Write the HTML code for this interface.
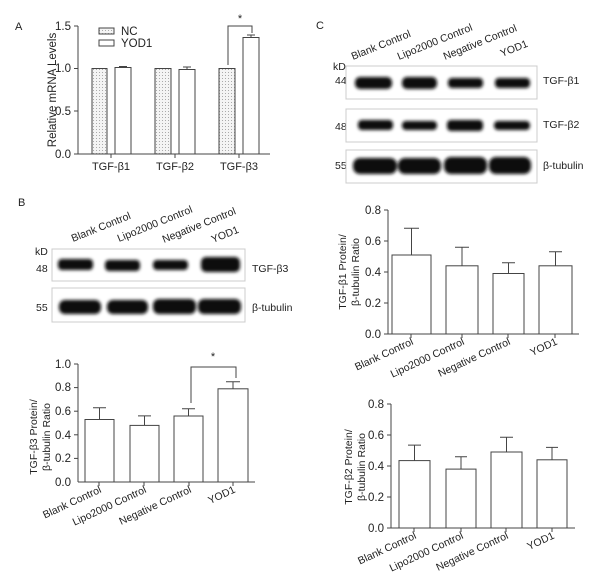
<!DOCTYPE html>
<html><head><meta charset="utf-8"><style>
body{margin:0;background:#fff}
svg{display:block;font-family:"Liberation Sans",Arial,sans-serif}
</style></head><body>
<svg width="605" height="580" viewBox="0 0 605 580" xmlns="http://www.w3.org/2000/svg">
<defs>
<pattern id="dots" width="3" height="3" patternUnits="userSpaceOnUse"><rect width="3" height="3" fill="#f4f4f4"/><rect width="1" height="1" fill="#aaa"/></pattern>
<filter id="bl" x="-20%" y="-50%" width="140%" height="200%"><feGaussianBlur stdDeviation="1.5"/></filter>
</defs>
<g fill="#222" font-size="11">
<!-- Panel A -->
<text x="15" y="30" font-size="11">A</text>
<g stroke="#444" stroke-width="1" fill="none">
<line x1="78" y1="26" x2="78" y2="154"/>
<line x1="78" y1="154" x2="270" y2="154"/>
<line x1="74" y1="26" x2="78" y2="26"/><line x1="74" y1="68.5" x2="78" y2="68.5"/><line x1="74" y1="111" x2="78" y2="111"/><line x1="74" y1="154" x2="78" y2="154"/>
<line x1="111" y1="154" x2="111" y2="158"/><line x1="175" y1="154" x2="175" y2="158"/><line x1="239" y1="154" x2="239" y2="158"/>
<rect x="92" y="68.5" width="15" height="85.5" fill="url(#dots)"/>
<rect x="115" y="67.5" width="16" height="86.5" fill="#fff"/>
<rect x="155" y="68.5" width="16" height="85.5" fill="url(#dots)"/>
<rect x="179" y="69.5" width="16" height="84.5" fill="#fff"/>
<rect x="219" y="68.5" width="16" height="85.5" fill="url(#dots)"/>
<rect x="243" y="37.5" width="16" height="116.5" fill="#fff"/>
<line x1="123" y1="67.5" x2="123" y2="66.5"/><line x1="119" y1="66.5" x2="127" y2="66.5"/>
<line x1="187" y1="69.5" x2="187" y2="67"/><line x1="183" y1="67" x2="191" y2="67"/>
<line x1="251" y1="37.5" x2="251" y2="35"/><line x1="247" y1="35" x2="255" y2="35"/>
<polyline points="228,65 228,26 252,26 252,33"/>
<rect x="99" y="28" width="15" height="6" fill="url(#dots)"/>
<rect x="99" y="40" width="15" height="6" fill="#fff"/>
</g>
<text x="240" y="22" text-anchor="middle" font-size="11">*</text>
<text x="121" y="35" font-size="11.5">NC</text>
<text x="121" y="47" font-size="11.5">YOD1</text>
<g font-size="11.5" text-anchor="end">
<text x="71" y="30">1.5</text><text x="71" y="72">1.0</text><text x="71" y="115">0.5</text><text x="71" y="158">0.0</text>
</g>
<text transform="translate(56,90) rotate(-90)" text-anchor="middle" font-size="11.5">Relative mRNA Levels</text>
<g font-size="11" text-anchor="middle">
<text x="111" y="170">TGF-β1</text><text x="175" y="170">TGF-β2</text><text x="239" y="170">TGF-β3</text>
</g>

<!-- Panel B western -->
<text x="18" y="206">B</text>
<g font-size="10.5">
<text transform="translate(73,242) rotate(-22)">Blank Control</text>
<text transform="translate(119,242) rotate(-22)">Lipo2000 Control</text>
<text transform="translate(164,243) rotate(-22)">Negative Control</text>
<text transform="translate(213,243) rotate(-22)">YOD1</text>
<text x="35" y="255">kD</text>
<text x="36" y="272">48</text>
<text x="36" y="311">55</text>
<text x="252" y="272">TGF-β3</text>
<text x="252" y="311">β-tubulin</text>
</g>
<rect x="52" y="249" width="193" height="32" fill="#fff" stroke="#ccc"/>
<rect x="52" y="288" width="193" height="34" fill="#fff" stroke="#ccc"/>
<g filter="url(#bl)" fill="#111">
<rect x="58" y="259" width="35" height="11" rx="4"/>
<rect x="105" y="260" width="35" height="11" rx="4"/>
<rect x="153" y="260" width="35" height="10" rx="4"/>
<rect x="201" y="257" width="39" height="15" rx="5"/>
<rect x="59" y="300" width="42" height="14" rx="6"/>
<rect x="107" y="300" width="41" height="14" rx="6"/>
<rect x="153" y="299" width="43" height="15" rx="6"/>
<rect x="198" y="299" width="43" height="15" rx="6"/>
</g>

<!-- Panel B chart -->
<g stroke="#444" fill="#fff">
<line x1="78" y1="364" x2="78" y2="482"/><line x1="78" y1="482" x2="255" y2="482"/>
<line x1="74" y1="364" x2="78" y2="364"/><line x1="74" y1="387.6" x2="78" y2="387.6"/><line x1="74" y1="411.2" x2="78" y2="411.2"/><line x1="74" y1="434.8" x2="78" y2="434.8"/><line x1="74" y1="458.4" x2="78" y2="458.4"/>
<line x1="99" y1="482" x2="99" y2="486"/><line x1="144" y1="482" x2="144" y2="486"/><line x1="189" y1="482" x2="189" y2="486"/><line x1="233" y1="482" x2="233" y2="486"/>
<rect x="85" y="419.5" width="29" height="62.5"/>
<rect x="130" y="425.4" width="29" height="56.6"/>
<rect x="174" y="416" width="29" height="66"/>
<rect x="218" y="388.8" width="30" height="93.2"/>
<path fill="none" d="M99.5 419.5V407.7M93 407.7H106M144.5 425.4V415.9M138 415.9H151M188.5 416V408.8M182 408.8H195M233 388.8V381.7M226 381.7H240"/>
<polyline fill="none" points="191,403 191,367 236,367 236,378"/>
</g>
<text x="213" y="360" text-anchor="middle">*</text>
<g font-size="11.5" text-anchor="end">
<text x="71" y="368">1.0</text><text x="71" y="391">0.8</text><text x="71" y="415">0.6</text><text x="71" y="439">0.4</text><text x="71" y="462">0.2</text><text x="71" y="486">0.0</text>
</g>
<g font-size="10.5" text-anchor="middle">
<text transform="translate(37,437) rotate(-90)">TGF-β3 Protein/</text>
<text transform="translate(50,437) rotate(-90)">β-tubulin Ratio</text>
</g>
<g font-size="10.5" text-anchor="end">
<text transform="translate(102,492) rotate(-25)">Blank Control</text>
<text transform="translate(147,492) rotate(-25)">Lipo2000 Control</text>
<text transform="translate(192,492) rotate(-25)">Negative Control</text>
<text transform="translate(236,492) rotate(-25)">YOD1</text>
</g>

<!-- Panel C western -->
<text x="316" y="29">C</text>
<g font-size="10.5">
<text transform="translate(353,60) rotate(-22)">Blank Control</text>
<text transform="translate(399,60) rotate(-22)">Lipo2000 Control</text>
<text transform="translate(445,60) rotate(-22)">Negative Control</text>
<text transform="translate(502,57) rotate(-22)">YOD1</text>
<text x="333" y="70">kD</text>
<text x="335" y="84">44</text>
<text x="335" y="130">48</text>
<text x="335" y="169">55</text>
<text x="543" y="84">TGF-β1</text>
<text x="543" y="128">TGF-β2</text>
<text x="543" y="169">β-tubulin</text>
</g>
<rect x="346" y="66" width="191" height="33" fill="#fff" stroke="#ccc"/>
<rect x="346" y="109" width="191" height="33" fill="#fff" stroke="#ccc"/>
<rect x="346" y="150" width="191" height="33" fill="#fff" stroke="#ccc"/>
<g filter="url(#bl)" fill="#111">
<rect x="355" y="77" width="37" height="12" rx="5"/>
<rect x="402" y="77" width="35" height="12" rx="5"/>
<rect x="448" y="78" width="35" height="10" rx="4"/>
<rect x="495" y="78" width="35" height="10" rx="4"/>
<rect x="358" y="120" width="35" height="10" rx="4"/>
<rect x="402" y="121" width="35" height="9" rx="4"/>
<rect x="447" y="120" width="36" height="11" rx="4"/>
<rect x="494" y="121" width="36" height="9" rx="4"/>
<rect x="353" y="158" width="44" height="16" rx="7"/>
<rect x="398" y="158" width="43" height="16" rx="7"/>
<rect x="444" y="157" width="43" height="17" rx="7"/>
<rect x="489" y="157" width="42" height="17" rx="7"/>
</g>

<!-- Panel C chart 1 -->
<g stroke="#444" fill="#fff">
<line x1="388" y1="210" x2="388" y2="334"/><line x1="388" y1="334" x2="579" y2="334"/>
<path fill="none" d="M384 210H388M384 241H388M384 272H388M384 303H388M384 334H388M411 334V338M462 334V338M508 334V338M555 334V338"/>
<rect x="392" y="255" width="39" height="79"/>
<rect x="446" y="265.8" width="32" height="68.2"/>
<rect x="493" y="273.5" width="31" height="60.5"/>
<rect x="539" y="265.8" width="33" height="68.2"/>
<path fill="none" d="M411.5 255V228.2M404 228.2H419M462 265.8V247.2M455 247.2H469M508.5 273.5V262.7M502 262.7H515M555.5 265.8V251.8M549 251.8H562"/>
</g>
<g font-size="11.5" text-anchor="end">
<text x="381" y="214">0.8</text><text x="381" y="245">0.6</text><text x="381" y="276">0.4</text><text x="381" y="307">0.2</text><text x="381" y="338">0.0</text>
</g>
<g font-size="10.5" text-anchor="middle">
<text transform="translate(346,272) rotate(-90)">TGF-β1 Protein/</text>
<text transform="translate(359,272) rotate(-90)">β-tubulin Ratio</text>
</g>
<g font-size="10.5" text-anchor="end">
<text transform="translate(414,344) rotate(-25)">Blank Control</text>
<text transform="translate(465,344) rotate(-25)">Lipo2000 Control</text>
<text transform="translate(511,344) rotate(-25)">Negative Control</text>
<text transform="translate(558,344) rotate(-25)">YOD1</text>
</g>

<!-- Panel C chart 2 -->
<g stroke="#444" fill="#fff">
<line x1="391" y1="404" x2="391" y2="528"/><line x1="391" y1="528" x2="575" y2="528"/>
<path fill="none" d="M387 404H391M387 435H391M387 466H391M387 497H391M387 528H391M414 528V532M461 528V532M506 528V532M552 528V532"/>
<rect x="399" y="460.6" width="31" height="67.4"/>
<rect x="446" y="469.1" width="30" height="58.9"/>
<rect x="491" y="452" width="31" height="76"/>
<rect x="537" y="459.8" width="30" height="68.2"/>
<path fill="none" d="M414.5 460.6V445.1M408 445.1H421M461 469.1V456.7M455 456.7H467M506.5 452V437.3M500 437.3H513M552 459.8V447.4M546 447.4H558"/>
</g>
<g font-size="11.5" text-anchor="end">
<text x="384" y="408">0.8</text><text x="384" y="439">0.6</text><text x="384" y="470">0.4</text><text x="384" y="501">0.2</text><text x="384" y="532">0.0</text>
</g>
<g font-size="10.5" text-anchor="middle">
<text transform="translate(352,467) rotate(-90)">TGF-β2 Protein/</text>
<text transform="translate(365,467) rotate(-90)">β-tubulin Ratio</text>
</g>
<g font-size="10.5" text-anchor="end">
<text transform="translate(417,538) rotate(-25)">Blank Control</text>
<text transform="translate(464,538) rotate(-25)">Lipo2000 Control</text>
<text transform="translate(509,538) rotate(-25)">Negative Control</text>
<text transform="translate(555,538) rotate(-25)">YOD1</text>
</g>
</g>
</svg>
</body></html>
